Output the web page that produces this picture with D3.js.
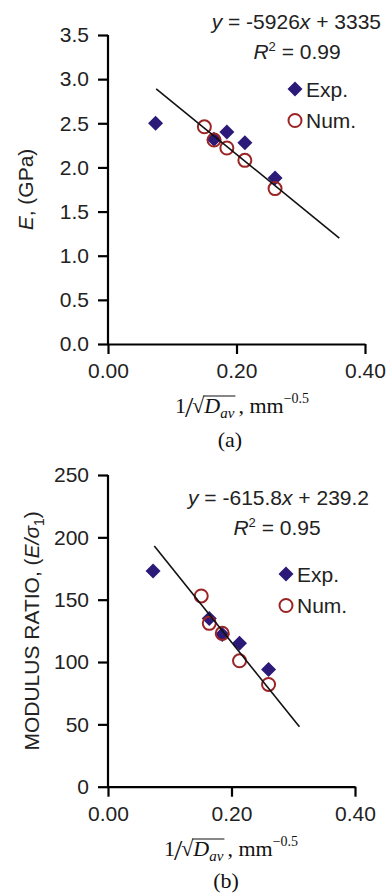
<!DOCTYPE html>
<html>
<head>
<meta charset="utf-8">
<script src="https://cdn.jsdelivr.net/npm/d3@7"></script>
<style>
  body { margin: 0; background: #fff; }
  svg { display: block; }
  .sans { font-family: "Liberation Sans", Arial, sans-serif; }
  .serif { font-family: "Liberation Serif", "Times New Roman", serif; }
</style>
</head>
<body>
<svg id="chart" width="387" height="895"></svg>
<script>
const xTicks = [0, 0.2, 0.4];

// panel (a): E in GPa
const yTicksA = [0, 0.5, 1.0, 1.5, 2.0, 2.5, 3.0, 3.5];
const expXA = [0.074, 0.165, 0.185, 0.213, 0.260];
const expYA = [2.50, 2.32, 2.40, 2.28, 1.88];
const numXA = [0.150, 0.165, 0.185, 0.213, 0.260];
const numYA = [2.46, 2.31, 2.22, 2.08, 1.76];
const fitXA = [0.075, 0.36];
const fitYA = [2.89, 1.20];

// panel (b): modulus ratio
const yTicksB = [0, 50, 100, 150, 200, 250];
const expXB = [0.073, 0.164, 0.185, 0.213, 0.260];
const expYB = [173, 135, 122, 115, 94];
const numXB = [0.151, 0.164, 0.185, 0.213, 0.260];
const numYB = [153, 131, 123, 101, 82];
const fitXB = [0.075, 0.31];
const fitYB = [193, 48];

const expColor = "#2b1a78";
const numColor = "#9b2424";
const fs = 21;

const svg = d3.select("#chart");

function drawPanel(p) {
  const x = d3.scaleLinear().domain([0, 0.4]).range([108, p.xRight]);
  const y = d3.scaleLinear().domain([0, p.yMax]).range([p.yBottom, p.yTop]);
  const g = svg.append("g");

  // axes
  const xAxis = g.append("g")
      .attr("transform", "translate(0," + p.yBottom + ")")
      .call(d3.axisBottom(x).tickValues(xTicks).tickFormat(d3.format(".2f")).tickSizeOuter(0).tickSizeInner(10).tickPadding(9));
  const yAxis = g.append("g")
      .attr("transform", "translate(108,0)")
      .call(d3.axisLeft(y).tickValues(p.yTicks).tickFormat(p.yFormat).tickSizeOuter(0).tickSizeInner(10).tickPadding(9));
  [xAxis, yAxis].forEach(a => {
    a.select(".domain").attr("stroke", "#000").attr("stroke-width", 2.2);
    a.selectAll(".tick line").attr("stroke", "#000").attr("stroke-width", 2.2);
    a.selectAll(".tick text").attr("class", "sans").style("font-size", fs + "px").attr("fill", "#222");
  });
  yAxis.select(".domain").attr("d", "M0," + (p.yBottom + 1) + "V" + p.yTop);

  const exp = d3.zip(p.expX, p.expY);
  const num = d3.zip(p.numX, p.numY);
  g.selectAll(".exp").data(exp).enter().append("path")
      .attr("class", "exp")
      .attr("d", "M0,-7.5L7.5,0L0,7.5L-7.5,0Z")
      .attr("transform", d => "translate(" + x(d[0]) + "," + y(d[1]) + ")")
      .attr("fill", expColor);
  g.selectAll(".num").data(num).enter().append("circle")
      .attr("class", "num")
      .attr("cx", d => x(d[0]))
      .attr("cy", d => y(d[1]))
      .attr("r", 6.5)
      .attr("fill", "none")
      .attr("stroke", numColor)
      .attr("stroke-width", 2);

  // trend line
  g.append("path")
      .datum(d3.zip(p.fitX, p.fitY))
      .attr("d", d3.line().x(d => x(d[0])).y(d => y(d[1])))
      .attr("stroke", "#111")
      .attr("stroke-width", 1.6)
      .attr("fill", "none");

  // equation
  const eq = g.append("text").attr("class", "sans").style("font-size", fs + "px").attr("fill", "#222")
      .attr("x", p.eqX).attr("y", p.eqY).attr("text-anchor", "end");
  eq.append("tspan").style("font-style", "italic").text("y");
  eq.append("tspan").text(" = " + p.slope);
  eq.append("tspan").style("font-style", "italic").text("x");
  eq.append("tspan").text(" + " + p.icpt);

  const r2 = g.append("text").attr("class", "sans").style("font-size", fs + "px").attr("fill", "#222")
      .attr("x", p.r2X).attr("y", p.r2Y).attr("text-anchor", "middle");
  r2.append("tspan").style("font-style", "italic").text("R");
  r2.append("tspan").attr("dy", -8).style("font-size", "13px").text("2");
  r2.append("tspan").attr("dy", 8).text(" = " + p.r2);

  // legend
  g.append("path")
      .attr("d", "M0,-7.5L7.5,0L0,7.5L-7.5,0Z")
      .attr("transform", "translate(" + p.legX + "," + p.legY + ")")
      .attr("fill", expColor);
  g.append("text").attr("class", "sans").style("font-size", fs + "px").attr("fill", "#222")
      .attr("x", p.legX + 11).attr("y", p.legY + 7.5).text("Exp.");
  g.append("circle")
      .attr("cx", p.legX).attr("cy", p.legY + 31.5).attr("r", 6.5)
      .attr("fill", "none").attr("stroke", numColor).attr("stroke-width", 2);
  g.append("text").attr("class", "sans").style("font-size", fs + "px").attr("fill", "#222")
      .attr("x", p.legX + 11).attr("y", p.legY + 39).text("Num.");

  // y label
  const yl = g.append("text").attr("class", "sans").style("font-size", fs + "px").attr("fill", "#222")
      .attr("text-anchor", "middle")
      .attr("transform", "translate(" + p.yLabX + "," + ((p.yTop + p.yBottom) / 2) + ")rotate(-90)");
  p.yLabel(yl);

  // x label: 1/sqrt(D_av), mm^-0.5
  const xl = g.append("g").attr("class", "serif").attr("fill", "#111");
  let cx = 0;
  function piece(txt, size, dy, italic) {
    const t = xl.append("text").attr("x", cx).attr("y", p.xLabY + dy)
        .style("font-size", size + "px").style("font-style", italic ? "italic" : "normal").text(txt);
    const w = t.node().getComputedTextLength();
    cx += w;
    return [cx - w, cx];
  }
  piece("1", 22, 0);
  cx -= 1;
  piece("/", 30, 4);
  cx -= 1;
  const rad = piece("\u221A", 22, 0);
  piece("D", 22, 0, true);
  const av = piece("av", 15, 5, true);
  xl.append("line").attr("x1", rad[1] - 1).attr("x2", av[1] + 1)
      .attr("y1", p.xLabY - 17).attr("y2", p.xLabY - 17)
      .attr("stroke", "#111").attr("stroke-width", 1.2);
  cx += 4;
  piece(", mm", 22, 0);
  piece("\u22120.5", 14, -10);
  xl.attr("transform", "translate(" + (p.xLabC - cx / 2) + ",0)");

  g.append("text").attr("class", "serif").style("font-size", "22px").attr("fill", "#111")
      .attr("x", p.tagX).attr("y", p.tagY).attr("text-anchor", "middle").text(p.tag);
}

drawPanel({
  xRight: 365, yTop: 35, yBottom: 344, yMax: 3.5, yTicks: yTicksA, yFormat: d3.format(".1f"),
  expX: expXA, expY: expYA, numX: numXA, numY: numYA, fitX: fitXA, fitY: fitYA,
  slope: "-5926", icpt: "3335", r2: "0.99", eqX: 381, eqY: 29, r2X: 297, r2Y: 59,
  legX: 295, legY: 89, yLabX: 33,
  yLabel: t => {
    t.append("tspan").style("font-style", "italic").text("E");
    t.append("tspan").text(", (GPa)");
  },
  xLabC: 242, xLabY: 413, tag: "(a)", tagX: 230, tagY: 447
});

drawPanel({
  xRight: 355, yTop: 475, yBottom: 786.7, yMax: 250, yTicks: yTicksB, yFormat: d3.format("d"),
  expX: expXB, expY: expYB, numX: numXB, numY: numYB, fitX: fitXB, fitY: fitYB,
  slope: "-615.8", icpt: "239.2", r2: "0.95", eqX: 369, eqY: 505, r2X: 277, r2Y: 535,
  legX: 286, legY: 574, yLabX: 39,
  yLabel: t => {
    t.append("tspan").text("MODULUS RATIO, (");
    t.append("tspan").style("font-style", "italic").text("E/\u03C3");
    t.append("tspan").attr("dy", 5).style("font-size", "14px").text("1");
    t.append("tspan").attr("dy", -5).text(")");
  },
  xLabC: 231, xLabY: 856, tag: "(b)", tagX: 226, tagY: 888
});
</script>
</body>
</html>
